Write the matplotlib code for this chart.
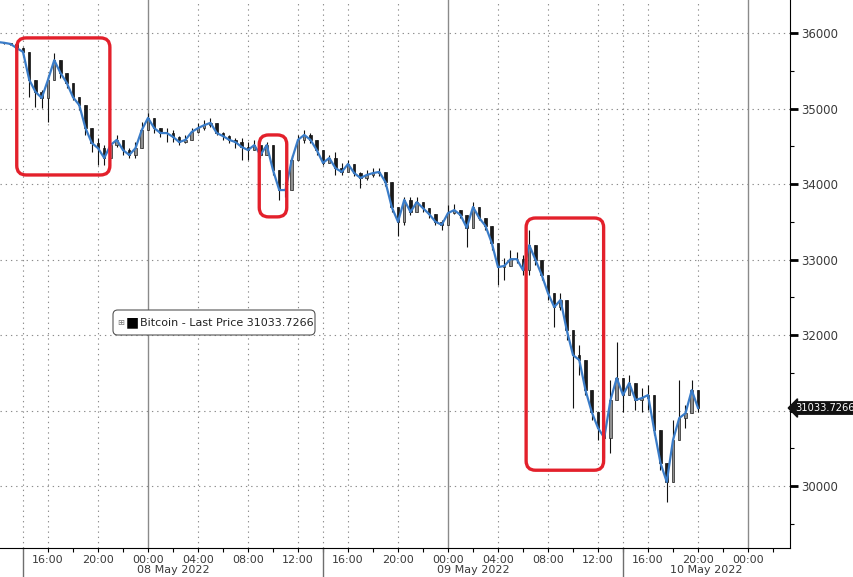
import numpy as np
import matplotlib.pyplot as plt
from matplotlib.patches import FancyBboxPatch
import matplotlib.transforms as mtransforms

########################################################
# Bitcoin last price, 30 minute bars
# time axis in hours, 0 = 08 May 2022 00:00 (chart time)
start_hour = -12.0
bar_step = 0.5

close = [35880, 35870, 35855, 35800, 35750, 35380, 35220, 35140, 35380, 35640,
         35470, 35340, 35150, 35045, 34740, 34545, 34475, 34345, 34515, 34585,
         34450, 34385, 34475, 34715, 34875, 34740, 34675, 34675, 34625, 34555,
         34585, 34690, 34740, 34780, 34810, 34675, 34635, 34585, 34555, 34490,
         34450, 34515, 34385, 34515, 34185, 33920, 33920, 34320, 34585, 34650,
         34585, 34450, 34280, 34345, 34210, 34160, 34265, 34145, 34080, 34120,
         34145, 34160, 34025, 33695, 33500, 33790, 33630, 33760, 33680, 33600,
         33500, 33460, 33615, 33655, 33590, 33420, 33695, 33550, 33445, 33220,
         32900, 32915, 33005, 33005, 32860, 33190, 32995, 32795, 32555, 32370,
         32465, 32065, 31735, 31670, 31270, 30980, 30770, 30640, 31140, 31430,
         31205, 31365, 31140, 31165, 31205, 30740, 30305, 30055, 30610, 30900,
         30965, 31270, 31034]
high = [35895, 35880, 35870, 35815, 35815, 35510, 35340, 35245, 35445, 35735,
        35615, 35445, 35270, 35140, 34955, 34650, 34610, 34515, 34610, 34650,
        34545, 34475, 34555, 34820, 34940, 34820, 34740, 34740, 34715, 34635,
        34650, 34740, 34810, 34850, 34875, 34780, 34690, 34650, 34610, 34610,
        34555, 34585, 34515, 34555, 34475, 34055, 34030, 34385, 34650, 34715,
        34675, 34585, 34450, 34385, 34425, 34280, 34320, 34250, 34160, 34185,
        34210, 34210, 34160, 33960, 33655, 33830, 33830, 33830, 33750, 33680,
        33590, 33525, 33720, 33735, 33655, 33590, 33760, 33680, 33525, 33365,
        33060, 33020, 33125, 33100, 33060, 33390, 33125, 32890, 32690, 32490,
        32555, 32330, 31870, 31870, 31470, 31140, 30940, 30875, 31400, 31910,
        31400, 31470, 31340, 31300, 31340, 31005, 30545, 30280, 30875, 31410,
        31075, 31405, 31205]
low = [35870, 35855, 35840, 35775, 35710, 35150, 35020, 35010, 34820, 35400,
       35400, 35270, 35110, 34980, 34650, 34425, 34250, 34250, 34320, 34490,
       34385, 34345, 34345, 34585, 34740, 34675, 34625, 34555, 34555, 34515,
       34545, 34610, 34675, 34715, 34755, 34650, 34585, 34545, 34475, 34320,
       34320, 34450, 34345, 34450, 34120, 33790, 33830, 33985, 34385, 34545,
       34545, 34385, 34250, 34280, 34120, 34120, 34185, 34105, 33950, 34055,
       34095, 34105, 33975, 33630, 33310, 33460, 33590, 33695, 33630, 33550,
       33460, 33390, 33460, 33605, 33550, 33165, 33590, 33525, 33390, 33125,
       32660, 32730, 32925, 32955, 32795, 32795, 32925, 32730, 32465, 32105,
       32330, 31935, 31030, 31470, 31205, 30875, 30610, 30370, 30440, 31270,
       30980, 31205, 31005, 30980, 31005, 30675, 30210, 29790, 30210, 30770,
       30770, 31140, 30980]
last_price = 31033.7266

tick_pos = [-8, -4, 0, 4, 8, 12, 16, 20, 24, 28, 32, 36, 40, 44, 48]
tick_labels = ["16:00", "20:00", "00:00", "04:00", "08:00", "12:00", "16:00",
               "20:00", "00:00", "04:00", "08:00", "12:00", "16:00", "20:00", "00:00"]
midnights = [0, 24, 48]
day_breaks = [-10, 14, 38]
day_labels = ["08 May 2022", "09 May 2022", "10 May 2022"]
price_ticks = [30000, 31000, 32000, 33000, 34000, 35000, 36000]

# highlighted zones: (start hour, end hour, low price, high price)
zones = [(-10.5, -3.05, 34120, 35935),
         (8.9, 11.1, 33565, 34650),
         (30.25, 36.45, 30210, 33550)]

x_range = (-11.84, 51.36)
y_range = (29180, 36437)

########################################################
t = start_hour + bar_step * np.arange(len(close))
c = np.array(close, dtype=float)
o = np.concatenate([[c[0]], c[:-1]])
h = np.maximum(np.array(high, dtype=float), np.maximum(o, c))
l = np.minimum(np.array(low, dtype=float), np.minimum(o, c))

fig = plt.figure(figsize=(8.54, 5.77), dpi=100)
ax = fig.add_axes([0, 29 / 577, 790 / 854, 548 / 577])
ax.set_xlim(*x_range)
ax.set_ylim(*y_range)

# grid
grid_kw = dict(color="#8c8c8c", lw=0.8, ls=(0, (1.2, 3.5)), zorder=0)
for y in price_ticks:
    ax.axhline(y, **grid_kw)
for x in tick_pos + day_breaks:
    if x not in midnights:
        ax.axvline(x, **grid_kw)
for x in midnights:
    ax.axvline(x, color="#8a8a8a", lw=1.0, zorder=0)

# candles
up = c >= o
w = 0.2
ax.vlines(t, l, h, color="#111111", lw=0.8, zorder=2)
ax.bar(t[up], (c - o)[up], bottom=o[up], width=w, color="#8f8f8f",
       edgecolor="#222222", lw=0.5, zorder=3)
ax.bar(t[~up], (o - c)[~up], bottom=c[~up], width=w, color="#1a1a1a",
       edgecolor="#111111", lw=0.5, zorder=3)
ax.plot(t, c, color="#3a7cc8", lw=1.6, zorder=4)

# highlighted zones
aspect = ((y_range[1] - y_range[0]) / 548) / ((x_range[1] - x_range[0]) / 790)
for t0, t1, p0, p1 in zones:
    ax.add_patch(FancyBboxPatch((t0, p0), t1 - t0, p1 - p0,
                                boxstyle="round,pad=0,rounding_size=0.75",
                                mutation_aspect=aspect, fill=False,
                                ec="#e3202b", lw=2.4, zorder=5))

# axes styling
for s in ["left", "top"]:
    ax.spines[s].set_visible(False)
ax.spines["right"].set_color("black")
ax.spines["bottom"].set_color("black")
ax.yaxis.tick_right()
ax.set_yticks(price_ticks)
# the last price tag sits over the 31000 label
ax.set_yticklabels(["" if v == 31000 else str(v) for v in price_ticks])
ax.set_yticks([v - 500 for v in price_ticks], minor=True)
ax.tick_params(axis="y", which="major", length=6, width=2, colors="black",
               labelcolor="#3a3a3a", labelsize=8.5, pad=2)
ax.tick_params(axis="y", which="minor", length=3, width=0.8, colors="black")
ax.set_xticks(tick_pos)
ax.set_xticklabels(tick_labels)
ax.set_xticks([p + 2 for p in tick_pos], minor=True)
ax.tick_params(axis="x", which="major", length=3, width=0.8, colors="black",
               labelcolor="#3a3a3a", labelsize=8, pad=2)
ax.tick_params(axis="x", which="minor", length=3, width=0.8, colors="black")

# day separators and labels below the axis
trans = mtransforms.blended_transform_factory(ax.transData, ax.transAxes)
for x in day_breaks:
    ax.plot([x, x], [0, -29 / 548], color="#6e6e6e", lw=1.0, transform=trans,
            clip_on=False)
edges = day_breaks + [x_range[1]]
for i, lab in enumerate(day_labels):
    ax.text((edges[i] + edges[i + 1]) / 2, -22 / 548, lab, transform=trans,
            ha="center", va="center", fontsize=8, color="#3a3a3a")

# last price tag
trans_y = mtransforms.blended_transform_factory(ax.transAxes, ax.transData)
ax.text(1.006, last_price, f"{last_price:.4f}", transform=trans_y, ha="left",
        va="center", fontsize=7.1, color="white", clip_on=False,
        bbox=dict(boxstyle="larrow,pad=0.12", fc="#111111", ec="#111111"))

# legend box
ax.add_patch(FancyBboxPatch((113 / 790, 213 / 548), 202 / 790, 25 / 548,
                            boxstyle="round,pad=0,rounding_size=0.006",
                            mutation_aspect=790 / 548, transform=ax.transAxes,
                            fc="white", ec="#555555", lw=0.8, zorder=6))
ax.text(121 / 790, 225.5 / 548, "\u229e", transform=ax.transAxes, ha="center",
        va="center", fontsize=6, color="#777777", zorder=7)
ax.text(132 / 790, 225.5 / 548, "\u25a0", transform=ax.transAxes, ha="center",
        va="center", fontsize=10, color="black", zorder=7)
ax.text(140 / 790, 225.5 / 548, f"Bitcoin - Last Price {last_price:.4f}",
        transform=ax.transAxes, ha="left", va="center", fontsize=8,
        color="#222222", zorder=7)

fig.savefig("out.png", dpi=100)
